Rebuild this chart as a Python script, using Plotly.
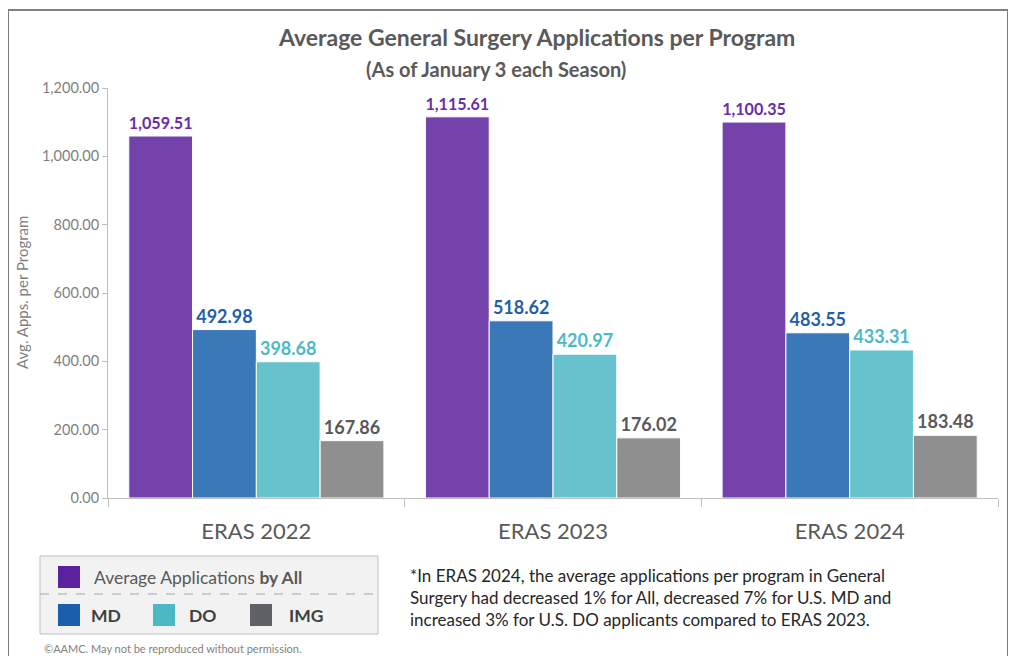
import plotly.graph_objects as go

categories = ["ERAS 2022", "ERAS 2023", "ERAS 2024"]
series_names = ["All", "MD", "DO", "IMG"]
all_vals = [1059.51, 1115.61, 1100.35]
md_vals = [492.98, 518.62, 483.55]
do_vals = [398.68, 420.97, 433.31]
img_vals = [167.86, 176.02, 183.48]
y_ticks = [0, 200, 400, 600, 800, 1000, 1200]

bar_colors = ["#7442AB", "#3B78B8", "#66C3CE", "#8F8F8F"]
label_colors = ["#6A2DAA", "#1F5FAA", "#4BBAC6", "#595959"]
legend_colors = ["#5B22A0", "#1B5FAA", "#4BB8C4", "#5F6166"]

FONT = "Lato"
OFF = 8  # page body margin
W, H = 1016 - OFF, 656 - OFF
ML, MR, MT, MB = 108 - OFF, 18, 88 - OFF, 158
PW = W - ML - MR
PH = H - MT - MB


def px(x):
    return (x - OFF - ML) / PW


def py(y):
    return 1 - (y - OFF - MT) / PH


fig = go.Figure()
for name, vals, bc, lc in zip(series_names, [all_vals, md_vals, do_vals, img_vals], bar_colors, label_colors):
    fig.add_trace(go.Bar(
        x=categories, y=vals, name=name,
        marker=dict(color=bc, line=dict(color="white", width=1)),
        texttemplate="<b>%{y:,.2f}</b>", textposition="outside",
        textfont=dict(family=FONT, size=18, color=lc),
        cliponaxis=False, showlegend=False,
    ))

shapes = []
annotations = []

# outer frame
shapes.append(dict(type="rect", xref="paper", yref="paper",
                   x0=px(8), x1=px(1008), y0=py(670), y1=py(10),
                   line=dict(color="#7F7F7F", width=2), fillcolor="rgba(0,0,0,0)", layer="below"))

# legend box
shapes.append(dict(type="rect", xref="paper", yref="paper",
                   x0=px(40), x1=px(378), y0=py(634), y1=py(556),
                   line=dict(color="#BFBFBF", width=1), fillcolor="#F2F2F2"))
shapes.append(dict(type="line", xref="paper", yref="paper",
                   x0=px(40), x1=px(378), y0=py(594), y1=py(594),
                   line=dict(color="#A6A6A6", width=1, dash="dash")))

legend_items = [
    (58, 566, legend_colors[0], "Average Applications <b>by All</b>", 92, 577, "#595959"),
    (58, 604, legend_colors[1], "<b>MD</b>", 89, 615, "#404040"),
    (153, 604, legend_colors[2], "<b>DO</b>", 187, 615, "#404040"),
    (250, 604, legend_colors[3], "<b>IMG</b>", 287, 615, "#404040"),
]
for sx, sy, col, txt, tx, ty, tc in legend_items:
    shapes.append(dict(type="rect", xref="paper", yref="paper",
                       x0=px(sx), x1=px(sx + 22), y0=py(sy + 22), y1=py(sy),
                       line=dict(width=0), fillcolor=col))
    annotations.append(dict(xref="paper", yref="paper", x=px(tx), y=py(ty),
                            text=txt, showarrow=False, xanchor="left", yanchor="middle",
                            font=dict(family=FONT, size=17.5, color=tc)))

# titles
annotations.append(dict(xref="paper", yref="paper", x=px(536), y=py(37),
                        text="<b>Average General Surgery Applications per Program</b>",
                        showarrow=False, xanchor="center", yanchor="middle",
                        font=dict(family=FONT, size=23, color="#595959")))
annotations.append(dict(xref="paper", yref="paper", x=px(496), y=py(69),
                        text="<b>(As of January 3 each Season)</b>",
                        showarrow=False, xanchor="center", yanchor="middle",
                        font=dict(family=FONT, size=20, color="#595959")))

# note
note = ("*In ERAS 2024, the average applications per program in General<br>"
        "Surgery had decreased 1% for All, decreased 7% for U.S. MD and<br>"
        "increased 3% for U.S. DO applicants compared to ERAS 2023.")
annotations.append(dict(xref="paper", yref="paper", x=px(408), y=py(563),
                        text=note, showarrow=False, xanchor="left", yanchor="top", align="left",
                        font=dict(family=FONT, size=17, color="#262626")))

# copyright
annotations.append(dict(xref="paper", yref="paper", x=px(42), y=py(648),
                        text="©AAMC. May not be reproduced without permission.",
                        showarrow=False, xanchor="left", yanchor="middle",
                        font=dict(family=FONT, size=11, color="#7F7F7F")))

# y axis title
annotations.append(dict(xref="paper", yref="paper", x=px(22), y=py(293),
                        text="Avg. Apps. per Program", textangle=-90,
                        showarrow=False, xanchor="center", yanchor="middle",
                        font=dict(family=FONT, size=15, color="#7F7F7F")))

fig.update_layout(
    width=W, height=H,
    margin=dict(l=ML, r=MR, t=MT, b=MB),
    paper_bgcolor="white", plot_bgcolor="white",
    barmode="group", bargap=0.14, bargroupgap=0.0,
    shapes=shapes, annotations=annotations,
    font=dict(family=FONT),
)
fig.update_xaxes(
    showline=True, linecolor="#BFBFBF", linewidth=1,
    ticks="outside", tickson="boundaries", ticklen=8, tickcolor="#BFBFBF",
    ticklabelstandoff=14,
    tickfont=dict(family=FONT, size=22, color="#595959"),
    showgrid=False,
)
fig.update_yaxes(
    range=[0, 1200], tickvals=y_ticks, tickformat=",.2f",
    showline=True, linecolor="#BFBFBF", linewidth=1,
    ticks="outside", ticklen=5, tickcolor="#BFBFBF",
    tickfont=dict(family=FONT, size=14.5, color="#7F7F7F"),
    showgrid=False, zeroline=False,
)

fig.write_html("out.html")
